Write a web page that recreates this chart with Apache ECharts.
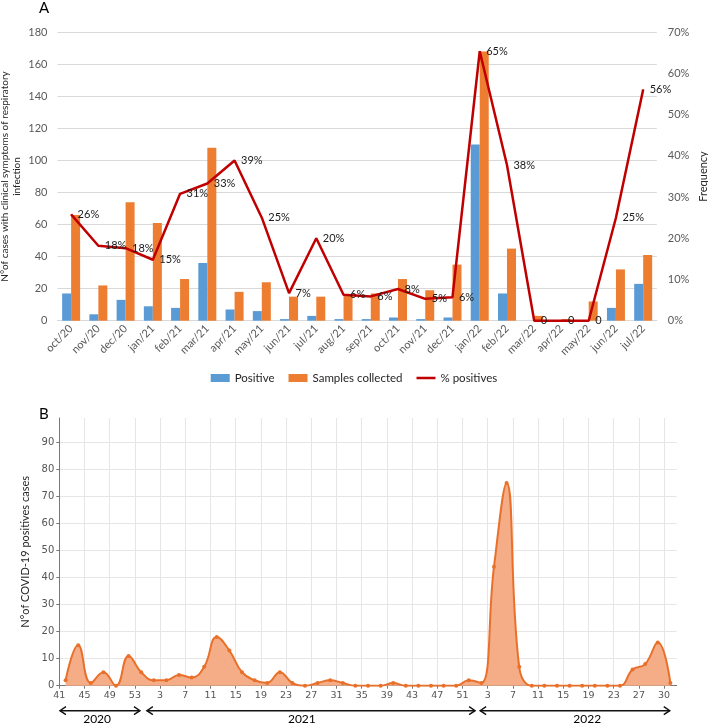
<!DOCTYPE html>
<html>
<head>
<meta charset="utf-8">
<script src="https://cdn.jsdelivr.net/npm/echarts@6/dist/echarts.min.js"></script>
<style>
  html, body { margin: 0; padding: 0; background: #fff; }
  #main { width: 708px; height: 724px; }
</style>
</head>
<body>
<div id="main"></div>
<script>
// panel A - monthly counts
const months = ['oct/20', 'nov/20', 'dec/20', 'jan/21', 'feb/21', 'mar/21', 'apr/21', 'may/21', 'jun/21', 'jul/21', 'aug/21',
  'sep/21', 'oct/21', 'nov/21', 'dec/21', 'jan/22', 'feb/22', 'mar/22', 'apr/22', 'may/22', 'jun/22', 'jul/22'];
const positive = [17, 4, 13, 9, 8, 36, 7, 6, 1, 3, 1, 1, 2, 1, 2, 110, 17, 0, 0, 0, 8, 23];
const samples = [66, 22, 74, 61, 26, 108, 18, 24, 15, 15, 16, 17, 26, 19, 35, 168, 45, 3, 1, 12, 32, 41];
const pctPositive = [25.8, 18.2, 17.6, 14.8, 30.8, 33.3, 38.9, 25, 6.7, 20, 6.3, 5.9, 7.7, 5.3, 5.7, 65.4, 37.8, 0, 0, 0, 25, 56.1];

// panel B - positives every second week (week 42/2020 ... week 31/2022)
const weekTicks = ['41', '45', '49', '53', '3', '7', '11', '15', '19', '23', '27', '31', '35', '39', '43', '47', '51',
  '3', '7', '11', '15', '19', '23', '27', '30'];
const weeklyPositives = [2, 15, 1, 5, 0, 11, 5, 2, 2, 4, 3, 7, 18, 13, 5, 2, 1, 5, 1, 0, 1, 2, 1, 0, 0,
  0, 1, 0, 0, 0, 0, 0, 2, 1, 44, 75, 7, 0, 0, 0, 0, 0, 0, 0, 0, 6, 8, 16, 1];
const years = ['2020', '2021', '2022'];
const yTicksB = [0, 10, 20, 30, 40, 50, 60, 70, 80, 90];

const weekCats = [];
for (let i = 0; i < 99; i++) {
  weekCats.push(i % 4 === 0 ? weekTicks[i / 4] : '');
}
const weekData = weeklyPositives.map((v, k) => [2 * k + 1, v]);

const FONT = 'Lato';
const GRID_B = '#E6E6E6';
const chart = echarts.init(document.getElementById('main'));

const option = {
  animation: false,
  textStyle: { fontFamily: FONT },
  title: [
    { text: 'A', left: 34, top: -4, textStyle: { fontSize: 15, fontWeight: 'normal', color: '#000', fontFamily: FONT } },
    { text: 'B', left: 34, top: 402, textStyle: { fontSize: 15, fontWeight: 'normal', color: '#000', fontFamily: FONT } }
  ],
  legend: {
    top: 367,
    left: 'center',
    itemWidth: 19,
    itemHeight: 8,
    itemGap: 14,
    textStyle: { fontSize: 11.5, color: '#262626', fontFamily: FONT },
    data: [
      { name: 'Positive', icon: 'rect' },
      { name: 'Samples collected', icon: 'rect' },
      { name: '% positives', icon: 'path://M0,0 L20,0 L20,0 Z M0,2.8 L20,2.8 L20,5.2 L0,5.2 Z M0,8 L20,8 L20,8 Z' }
    ]
  },
  grid: [
    { left: 57.5, top: 32.3, width: 599.3, height: 288.4, outerBoundsMode: 'none', containLabel: false },
    { left: 59.3, top: 418, width: 617.4, height: 267.7, outerBoundsMode: 'none', containLabel: false }
  ],
  xAxis: [
    {
      gridIndex: 0,
      type: 'category',
      data: months,
      axisLine: { lineStyle: { color: '#D9D9D9' } },
      axisTick: { show: false },
      axisLabel: { rotate: 45, interval: 0, fontSize: 11, color: '#595959', margin: 6 }
    },
    {
      gridIndex: 1,
      type: 'category',
      data: weekCats,
      boundaryGap: false,
      axisLine: { lineStyle: { color: '#777' } },
      axisTick: { show: true, interval: 3, length: 3, lineStyle: { color: '#777' } },
      axisLabel: {
        interval: 3, fontSize: 9.5, color: '#555', margin: 5, fontFamily: 'DejaVu Sans',
        formatter: (v, i) => weekTicks[i / 4]
      },
      splitLine: { show: true, interval: 3, lineStyle: { color: GRID_B } }
    }
  ],
  yAxis: [
    {
      gridIndex: 0,
      type: 'value',
      min: 0, max: 180, interval: 20,
      name: 'N°of cases with clinical symptoms of respiratory\ninfection',
      nameLocation: 'middle',
      nameGap: 34,
      nameMoveOverlap: false,
      nameTextStyle: { fontSize: 10, color: '#262626', lineHeight: 12.5 },
      axisLine: { show: false },
      axisTick: { show: false },
      axisLabel: { fontSize: 11, color: '#595959', margin: 10 },
      splitLine: { lineStyle: { color: '#D9D9D9' } }
    },
    {
      gridIndex: 0,
      type: 'value',
      position: 'right',
      min: 0, max: 70, interval: 10,
      name: 'Frequency',
      nameLocation: 'middle',
      nameGap: 41,
      nameMoveOverlap: false,
      nameTextStyle: { fontSize: 11, color: '#262626' },
      axisLine: { show: false },
      axisTick: { show: false },
      axisLabel: { fontSize: 11, color: '#595959', margin: 11, formatter: '{value}%' },
      splitLine: { show: false }
    },
    {
      gridIndex: 1,
      type: 'value',
      min: 0, max: 99, interval: 10,
      name: 'N°of COVID-19 positives cases',
      nameLocation: 'middle',
      nameGap: 28,
      nameMoveOverlap: false,
      nameTextStyle: { fontSize: 11, color: '#262626' },
      axisLine: { show: true, lineStyle: { color: '#777' } },
      axisTick: { show: true, length: 3, customValues: yTicksB, lineStyle: { color: '#777' } },
      axisLabel: { fontSize: 10, color: '#555', margin: 5, fontFamily: 'DejaVu Sans', customValues: yTicksB },
      splitLine: { lineStyle: { color: [GRID_B, GRID_B, GRID_B, GRID_B, GRID_B, GRID_B, GRID_B, GRID_B, GRID_B, GRID_B, 'rgba(0,0,0,0)'] } }
    }
  ],
  series: [
    {
      name: 'Positive',
      type: 'bar',
      xAxisIndex: 0, yAxisIndex: 0,
      data: positive,
      barWidth: 9,
      barGap: '0%',
      itemStyle: { color: '#5B9BD5' }
    },
    {
      name: 'Samples collected',
      type: 'bar',
      xAxisIndex: 0, yAxisIndex: 0,
      data: samples,
      barWidth: 9,
      itemStyle: { color: '#ED7D31' }
    },
    {
      name: '% positives',
      type: 'line',
      xAxisIndex: 0, yAxisIndex: 1,
      data: pctPositive,
      symbol: 'circle',
      symbolSize: 1,
      showSymbol: true,
      lineStyle: { color: '#C00000', width: 2.5 },
      itemStyle: { color: '#C00000' },
      z: 5,
      labelLayout: { hideOverlap: false },
      label: {
        show: true,
        position: 'right',
        distance: 6,
        offset: [0, 1],
        fontSize: 11,
        color: '#1a1a1a',
        fontFamily: FONT,
        formatter: p => p.value === 0 ? '0' : Math.round(p.value) + '%'
      }
    },
    {
      name: 'weekly',
      type: 'line',
      xAxisIndex: 1, yAxisIndex: 2,
      data: weekData,
      smooth: 0.45,
      symbol: 'circle',
      symbolSize: 4,
      showSymbol: true,
      lineStyle: { color: '#E8702A', width: 2 },
      itemStyle: { color: '#E8702A' },
      areaStyle: { color: '#F5AD88', opacity: 1 }
    }
  ]
};
chart.setOption(option);

// year arrows under panel B, placed in category units of the weekly axis
const yearSpans = [[0.1, 12.8], [13.9, 66], [66.8, 96.9]];
const yearLabelAt = [6, 38.5, 83.8];
const p0 = chart.convertToPixel({ xAxisIndex: 1 }, 0);
const p96 = chart.convertToPixel({ xAxisIndex: 1 }, 96);
const px = i => p0 + (p96 - p0) * i / 96;
const arrowY = 710.7;
const graphics = [];
yearSpans.forEach((s, k) => {
  const x1 = px(s[0]), x2 = px(s[1]);
  graphics.push({
    type: 'line', shape: { x1: x1, y1: arrowY, x2: x2, y2: arrowY },
    style: { stroke: '#111', lineWidth: 1.4 }
  });
  graphics.push({
    type: 'polyline', shape: { points: [[x1 + 6, arrowY - 4], [x1, arrowY], [x1 + 6, arrowY + 4]] },
    style: { stroke: '#111', lineWidth: 1.4, fill: null }
  });
  graphics.push({
    type: 'polyline', shape: { points: [[x2 - 6, arrowY - 4], [x2, arrowY], [x2 - 6, arrowY + 4]] },
    style: { stroke: '#111', lineWidth: 1.4, fill: null }
  });
  graphics.push({
    type: 'text', x: px(yearLabelAt[k]), y: 713,
    style: { text: years[k], fontSize: 12, fontFamily: FONT, fill: '#000', textAlign: 'center', textVerticalAlign: 'top' }
  });
});
chart.setOption({ graphic: graphics });
</script>
</body>
</html>
